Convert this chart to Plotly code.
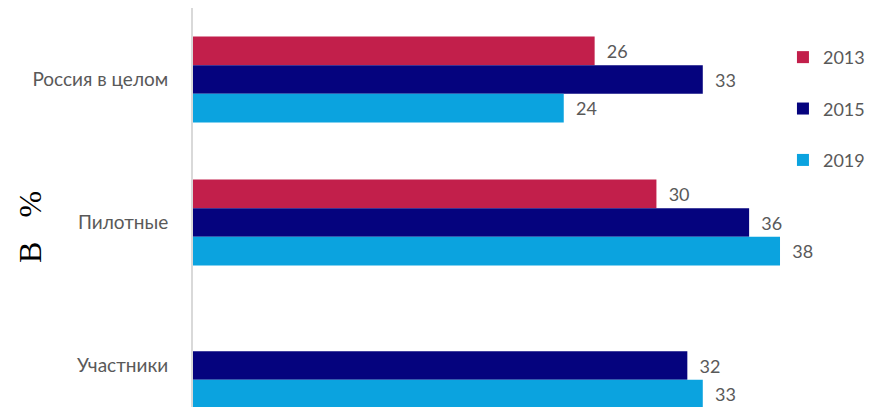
import plotly.graph_objects as go

categories = ["Россия в целом", "Пилотные", "Участники"]
years = ["2013", "2015", "2019"]
values_2013 = [26, 30, None]
values_2015 = [33, 36, 32]
values_2019 = [24, 38, 33]
colors = ["#C21F4B", "#05037E", "#0BA3DF"]

series = [values_2013, values_2015, values_2019]
FONT = "Lato, sans-serif"

fig = go.Figure()
for i, (yr, vals) in enumerate(zip(years, series)):
    fig.add_trace(go.Bar(
        y=categories, x=vals, orientation="h", name=yr,
        marker=dict(color=colors[i], line=dict(width=0)),
        text=[("  " + str(v)) if v is not None else "" for v in vals],
        textposition="outside", cliponaxis=False,
        textfont=dict(family=FONT, size=18, color="#595959"),
        legendgroup=yr,
    ))

fig.update_layout(
    width=866, height=407,
    margin=dict(l=185, r=60, t=0, b=0, autoexpand=False),
    paper_bgcolor="white", plot_bgcolor="white",
    barmode="group", bargap=0.4, bargroupgap=0,
    showlegend=True,
    legend=dict(
        x=0.950, xanchor="left", y=0.924, yanchor="top",
        font=dict(family=FONT, size=18, color="#595959"),
        tracegroupgap=25, itemwidth=30,
        bgcolor="rgba(0,0,0,0)",
    ),
    xaxis=dict(range=[0, 40.2], visible=False, showgrid=False, automargin=False),
    yaxis=dict(
        categoryorder="array", categoryarray=categories,
        range=[2.346, -0.5], automargin=False,
        showgrid=False, showline=True, linecolor="#D9D9D9", linewidth=2,
        ticks="", ticklabelstandoff=19,
        tickfont=dict(family=FONT, size=19, color="#595959"),
    ),
    annotations=[dict(
        text="В   %", xref="paper", yref="paper",
        x=-0.2625, y=0.462, xanchor="center", yanchor="middle",
        showarrow=False, textangle=-90,
        font=dict(family="Liberation Serif, Times New Roman, serif", size=32, color="black"),
    )],
)

fig.write_html("out.html")
